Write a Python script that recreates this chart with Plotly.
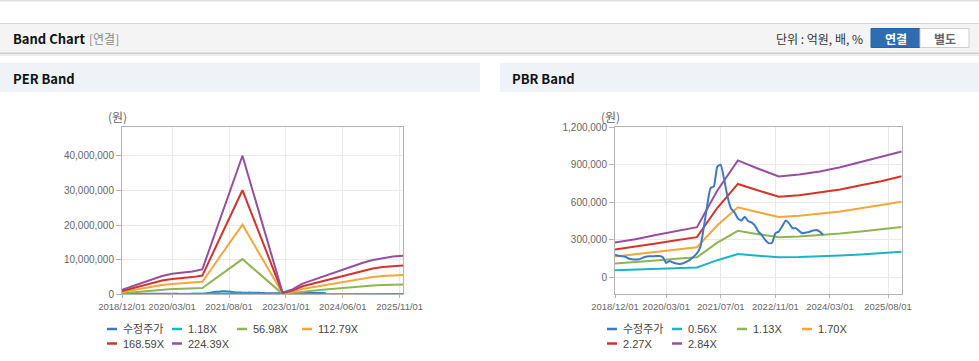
import plotly.graph_objects as go
import pandas as pd

W, H = 979, 361

# ---------------- data ----------------
series_names_per = ["수정주가", "1.18X", "56.98X", "112.79X", "168.59X", "224.39X"]
series_names_pbr = ["수정주가", "0.56X", "1.13X", "1.70X", "2.27X", "2.84X"]
colors = ["#3b78c8", "#1db3c6", "#8db552", "#f3a73b", "#d5322c", "#964fa0"]

tick_dates_per = ["2018-12-01", "2020-03-01", "2021-08-01", "2023-01-01", "2024-06-01", "2025-11-01"]
tick_text_per = ["2018/12/01", "2020/03/01", "2021/08/01", "2023/01/01", "2024/06/01", "2025/11/01"]
tick_dates_pbr = ["2018-12-01", "2020-03-01", "2021-07-01", "2022-11-01", "2024-03-01", "2025-08-01"]
tick_text_pbr = ["2018/12/01", "2020/03/01", "2021/07/01", "2022/11/01", "2024/03/01", "2025/08/01"]

# adjusted price (won), monthly from 2018-12
price_start = "2018-12-01"
price = [180000, 172000, 168000, 165000, 150000, 144000, 142000, 144000, 155000, 165000,
         168000, 168000, 170000, 170000, 160000, 115000, 130000, 118000, 110000, 107000,
         112000, 125000, 141000, 165000, 192000, 245000, 406000, 566000, 714000, 727000,
         887000, 900000, 780000, 640000, 550000, 520000, 470000, 455000, 485000, 450000,
         440000, 415000, 366000, 339000, 300000, 273000, 275000, 353000, 366000, 410000,
         454000, 433000, 393000, 393000, 370000, 353000, 358000, 365000, 374000, 379000,
         365000, 339000]

# PER band (won)
per_dates = ["2018-12-01", "2019-03-01", "2019-06-01", "2019-09-01", "2019-12-01", "2020-03-01",
             "2020-06-01", "2020-09-01", "2020-12-01", "2021-12-01", "2022-12-01", "2023-03-01",
             "2023-06-01", "2023-09-01", "2023-12-01", "2024-03-01", "2024-06-01", "2024-09-01",
             "2024-12-01", "2025-03-01", "2025-06-01", "2025-09-01", "2025-12-01"]
per_1_18 = [6800, 12100, 17400, 22600, 27900, 31000, 32600, 34700, 37900, 210400, 2600, 7400,
            16300, 21600, 26800, 32600, 37900, 43100, 47900, 52100, 55200, 57300, 58400]
per_56_98 = [330000, 580000, 840000, 1090000, 1350000, 1500000, 1570000, 1680000, 1830000,
             10160000, 130000, 360000, 790000, 1040000, 1290000, 1570000, 1830000, 2080000,
             2310000, 2510000, 2670000, 2770000, 2820000]
per_112_79 = [650000, 1160000, 1660000, 2160000, 2660000, 2970000, 3120000, 3320000, 3620000,
              20110000, 250000, 700000, 1560000, 2060000, 2560000, 3120000, 3620000, 4120000,
              4570000, 4980000, 5280000, 5480000, 5580000]
per_168_59 = [980000, 1730000, 2480000, 3230000, 3980000, 4430000, 4660000, 4960000, 5410000,
              30050000, 380000, 1050000, 2330000, 3080000, 3830000, 4660000, 5410000, 6160000,
              6840000, 7440000, 7890000, 8190000, 8340000]
per_224_39 = [1300000, 2300000, 3300000, 4300000, 5300000, 5900000, 6200000, 6600000, 7200000,
              40000000, 500000, 1400000, 3100000, 4100000, 5100000, 6200000, 7200000, 8200000,
              9100000, 9900000, 10500000, 10900000, 11100000]

# PBR band (won)
pbr_dates = ["2018-12-01", "2019-06-01", "2019-12-01", "2020-06-01", "2020-12-01", "2021-06-01",
             "2021-12-01", "2022-06-01", "2022-12-01", "2023-06-01", "2023-12-01", "2024-06-01",
             "2024-12-01", "2025-06-01", "2025-12-01"]
pbr_0_56 = [57000, 61000, 67000, 73000, 79000, 137000, 186000, 172000, 160000, 162000, 167000,
            174000, 183000, 193000, 204000]
pbr_1_13 = [111000, 121000, 135000, 148000, 160000, 277000, 372000, 345000, 321000, 327000,
            337000, 350000, 367000, 383000, 403000]
pbr_1_70 = [166000, 183000, 203000, 222000, 240000, 416000, 560000, 520000, 483000, 492000,
            507000, 527000, 552000, 576000, 605000]
pbr_2_27 = [222000, 244000, 271000, 297000, 321000, 556000, 747000, 694000, 645000, 657000,
            677000, 703000, 737000, 769000, 808000]
pbr_2_84 = [278000, 305000, 339000, 371000, 401000, 695000, 935000, 868000, 807000, 822000,
            847000, 880000, 922000, 962000, 1007000]

per_y_ticks = [0, 10000000, 20000000, 30000000, 40000000]
pbr_y_ticks = [0, 300000, 600000, 900000, 1200000]

price_dates = pd.date_range(price_start, periods=len(price), freq="MS")

# ---------------- figure ----------------
fig = go.Figure()

per_bands = [per_1_18, per_56_98, per_112_79, per_168_59, per_224_39]
pbr_bands = [pbr_0_56, pbr_1_13, pbr_1_70, pbr_2_27, pbr_2_84]

fig.add_trace(go.Scatter(x=price_dates, y=price, mode="lines", name=series_names_per[0],
                         line=dict(color=colors[0], width=2, shape="spline", smoothing=0.5),
                         xaxis="x", yaxis="y", showlegend=False))
for i, band in enumerate(per_bands):
    fig.add_trace(go.Scatter(x=per_dates, y=band, mode="lines", name=series_names_per[i + 1],
                             line=dict(color=colors[i + 1], width=2),
                             xaxis="x", yaxis="y", showlegend=False))

for i, band in enumerate(pbr_bands):
    fig.add_trace(go.Scatter(x=pbr_dates, y=band, mode="lines", name=series_names_pbr[i + 1],
                             line=dict(color=colors[i + 1], width=2),
                             xaxis="x2", yaxis="y2", showlegend=False))
fig.add_trace(go.Scatter(x=price_dates, y=price, mode="lines", name=series_names_pbr[0],
                         line=dict(color=colors[0], width=2, shape="spline", smoothing=0.5),
                         xaxis="x2", yaxis="y2", showlegend=False))


def px(x):
    return x / W


def py(y):
    return 1 - y / H


xtick_font = dict(family="Liberation Sans, Arial, sans-serif", size=9.5, color="#666666")
ytick_font = dict(family="Liberation Sans, Arial, sans-serif", size=10, color="#666666")
grid = "#e9e9e9"
frame = "#b4b4b4"

common_x = dict(type="date", range=["2018-12-01", "2025-12-01"], showgrid=True, gridcolor=grid,
                showline=True, mirror=True, linecolor=frame, linewidth=1, ticks="outside",
                ticklen=3, tickcolor=frame, tickfont=xtick_font, zeroline=False, fixedrange=True,
                tickangle=0, automargin=False)
common_y = dict(showgrid=True, gridcolor=grid, showline=True, mirror=True, linecolor=frame,
                linewidth=1, ticks="outside", ticklen=5, tickcolor=frame, tickfont=ytick_font,
                zeroline=False, fixedrange=True, automargin=False)

fig.update_layout(
    width=W, height=H, margin=dict(l=0, r=0, t=0, b=0, pad=0), autosize=False,
    paper_bgcolor="white", plot_bgcolor="white", showlegend=False,
    xaxis=dict(domain=[px(122), px(403)], anchor="y", tickvals=tick_dates_per,
               ticktext=tick_text_per, **common_x),
    yaxis=dict(domain=[py(294.3), py(127)], anchor="x", range=[0, 48300000],
               tickvals=per_y_ticks, ticktext=[f"{v:,}" for v in per_y_ticks], **common_y),
    xaxis2=dict(domain=[px(615), px(901.7)], anchor="y2", tickvals=tick_dates_pbr,
                ticktext=tick_text_pbr, **common_x),
    yaxis2=dict(domain=[py(294.3), py(127.3)], anchor="x2", range=[-136000, 1200000],
                tickvals=pbr_y_ticks, ticktext=[f"{v:,}" for v in pbr_y_ticks], **common_y),
)

shapes = []
ann = []

# top thin line
shapes.append(dict(type="rect", xref="paper", yref="paper", x0=0, x1=1, y0=py(1.5), y1=py(0),
                   fillcolor="#dddddd", line=dict(width=0), layer="below"))
# header bar
shapes.append(dict(type="rect", xref="paper", yref="paper", x0=0, x1=1, y0=py(53), y1=py(23),
                   fillcolor="#f4f4f4", line=dict(width=0), layer="below"))
shapes.append(dict(type="rect", xref="paper", yref="paper", x0=0, x1=1, y0=py(24), y1=py(23),
                   fillcolor="#d6d6d6", line=dict(width=0), layer="below"))
shapes.append(dict(type="rect", xref="paper", yref="paper", x0=0, x1=1, y0=py(54), y1=py(52.5),
                   fillcolor="#cdcdcd", line=dict(width=0), layer="below"))
shapes.append(dict(type="rect", xref="paper", yref="paper", x0=0, x1=1, y0=py(56), y1=py(54),
                   fillcolor="#ececec", line=dict(width=0), layer="below"))

head_font = dict(family="Noto Sans CJK KR, sans-serif", size=13, color="#111111")
ann.append(dict(xref="paper", yref="paper", x=px(11), y=py(38), xanchor="left", yanchor="middle",
                text="<b>Band Chart</b>", showarrow=False, font=head_font))
ann.append(dict(xref="paper", yref="paper", x=px(87), y=py(38.5), xanchor="left", yanchor="middle",
                text="[연결]", showarrow=False,
                font=dict(family="Noto Sans CJK KR, sans-serif", size=12, color="#8a8a8a")))
ann.append(dict(xref="paper", yref="paper", x=px(865), y=py(38.5), xanchor="right", yanchor="middle",
                text="단위 : 억원, 배, %", showarrow=False,
                font=dict(family="Noto Sans CJK KR, sans-serif", size=12, color="#333333")))
# buttons
shapes.append(dict(type="rect", xref="paper", yref="paper", x0=px(871), x1=px(920), y0=py(47.5),
                   y1=py(28.5), fillcolor="#2f6db3", line=dict(color="#2a63a3", width=1)))
shapes.append(dict(type="rect", xref="paper", yref="paper", x0=px(920), x1=px(969), y0=py(47.5),
                   y1=py(28.5), fillcolor="#ffffff", line=dict(color="#cccccc", width=1)))
ann.append(dict(xref="paper", yref="paper", x=px(895.5), y=py(38), xanchor="center", yanchor="middle",
                text="<b>연결</b>", showarrow=False,
                font=dict(family="Noto Sans CJK KR, sans-serif", size=12, color="#ffffff")))
ann.append(dict(xref="paper", yref="paper", x=px(944.5), y=py(38), xanchor="center", yanchor="middle",
                text="<b>별도</b>", showarrow=False,
                font=dict(family="Noto Sans CJK KR, sans-serif", size=12, color="#666666")))

# panel headers
for x0, x1, label, tx in [(0, 480, "PER Band", 11), (500, 979, "PBR Band", 510)]:
    shapes.append(dict(type="rect", xref="paper", yref="paper", x0=px(x0), x1=px(x1), y0=py(92),
                       y1=py(63), fillcolor="#eff2f6", line=dict(width=0), layer="below"))
    ann.append(dict(xref="paper", yref="paper", x=px(tx), y=py(78.5), xanchor="left",
                    yanchor="middle", text=f"<b>{label}</b>", showarrow=False, font=head_font))

# unit labels
for cx in (117, 610):
    ann.append(dict(xref="paper", yref="paper", x=px(cx), y=py(116.5), xanchor="center",
                    yanchor="middle", text="(원)", showarrow=False,
                    font=dict(family="Noto Sans CJK KR, sans-serif", size=12, color="#666666")))

# legends
leg_font = dict(family="Liberation Sans, Noto Sans CJK KR, sans-serif", size=11, color="#444444")
for base, names in [(107, series_names_per), (607, series_names_pbr)]:
    for i, name in enumerate(names):
        row, col = divmod(i, 4)
        lx = base + col * 65
        ly = 329 + row * 14.5
        shapes.append(dict(type="line", xref="paper", yref="paper", x0=px(lx), x1=px(lx + 10),
                           y0=py(ly), y1=py(ly), line=dict(color=colors[i], width=2.5)))
        ann.append(dict(xref="paper", yref="paper", x=px(lx + 14), y=py(ly), xanchor="left",
                        yanchor="middle", text=name, showarrow=False, font=leg_font))

fig.update_layout(shapes=shapes, annotations=ann)

fig.write_html("out.html", config={"displayModeBar": False},
               post_script="document.body.style.margin='0';")
